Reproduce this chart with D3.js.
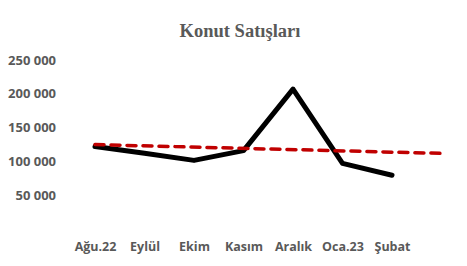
<!DOCTYPE html>
<html>
<head>
<meta charset="utf-8">
<script src="https://cdn.jsdelivr.net/npm/d3@7"></script>
<style>
  body { margin: 0; background: #fff; }
  svg { display: block; }
</style>
</head>
<body>
<svg width="467" height="266"></svg>
<script>
const months = ['Ağu.22', 'Eylül', 'Ekim', 'Kasım', 'Aralık', 'Oca.23', 'Şubat'];
const sales = [122000, 112000, 101500, 116000, 207000, 97000, 79500];
const yTicks = [50000, 100000, 150000, 200000, 250000];

const svg = d3.select('svg');
const grey = '#595959';

// index based x, so the trend line can run one period further
const x = d3.scaleLinear().domain([0, months.length - 1]).range([95, 392]);
const y = d3.scaleLinear().domain([0, 250000]).range([229, 60]);

// linear trend (least squares), forecast 1 period forward
const n = sales.length;
const mx = d3.mean(sales, (d, i) => i);
const my = d3.mean(sales);
const slope = d3.sum(sales, (d, i) => (i - mx) * (d - my)) / d3.sum(sales, (d, i) => (i - mx) ** 2);
const trend = [0, n].map(i => [i, my + slope * (i - mx)]);

svg.append('text')
    .attr('x', 240)
    .attr('y', 37)
    .attr('text-anchor', 'middle')
    .attr('font-family', 'Liberation Serif, serif')
    .attr('font-weight', 'bold')
    .attr('font-size', 18.5)
    .attr('fill', grey)
    .text('Konut Satışları');

const fmt = d => d3.format(',')(d).replace(/,/g, ' ');

const yAxis = svg.append('g')
    .attr('transform', 'translate(56,0)')
    .call(d3.axisLeft(y).tickValues(yTicks).tickFormat(fmt).tickSize(0).tickPadding(0));
yAxis.select('.domain').remove();
yAxis.selectAll('text')
    .attr('font-family', 'Open Sans, sans-serif')
    .attr('font-weight', 'bold')
    .attr('font-size', 13)
    .attr('fill', grey);

const xAxis = svg.append('g')
    .attr('transform', 'translate(0,242)')
    .call(d3.axisBottom(x).tickValues(d3.range(months.length)).tickFormat(i => months[i]).tickSize(0).tickPadding(0));
xAxis.select('.domain').remove();
xAxis.selectAll('text')
    .attr('font-family', 'Open Sans, sans-serif')
    .attr('font-weight', 'bold')
    .attr('font-size', 12.5)
    .attr('fill', grey);

const line = d3.line().x(d => x(d[0])).y(d => y(d[1]));

svg.append('path')
    .datum(sales.map((d, i) => [i, d]))
    .attr('d', line)
    .attr('fill', 'none')
    .attr('stroke', '#000')
    .attr('stroke-width', 5)
    .attr('stroke-linejoin', 'round')
    .attr('stroke-linecap', 'round');

svg.append('path')
    .datum(trend)
    .attr('d', line)
    .attr('fill', 'none')
    .attr('stroke', '#c00000')
    .attr('stroke-width', 3.5)
    .attr('stroke-dasharray', '9,7')
    .attr('stroke-linecap', 'round');
</script>
</body>
</html>
